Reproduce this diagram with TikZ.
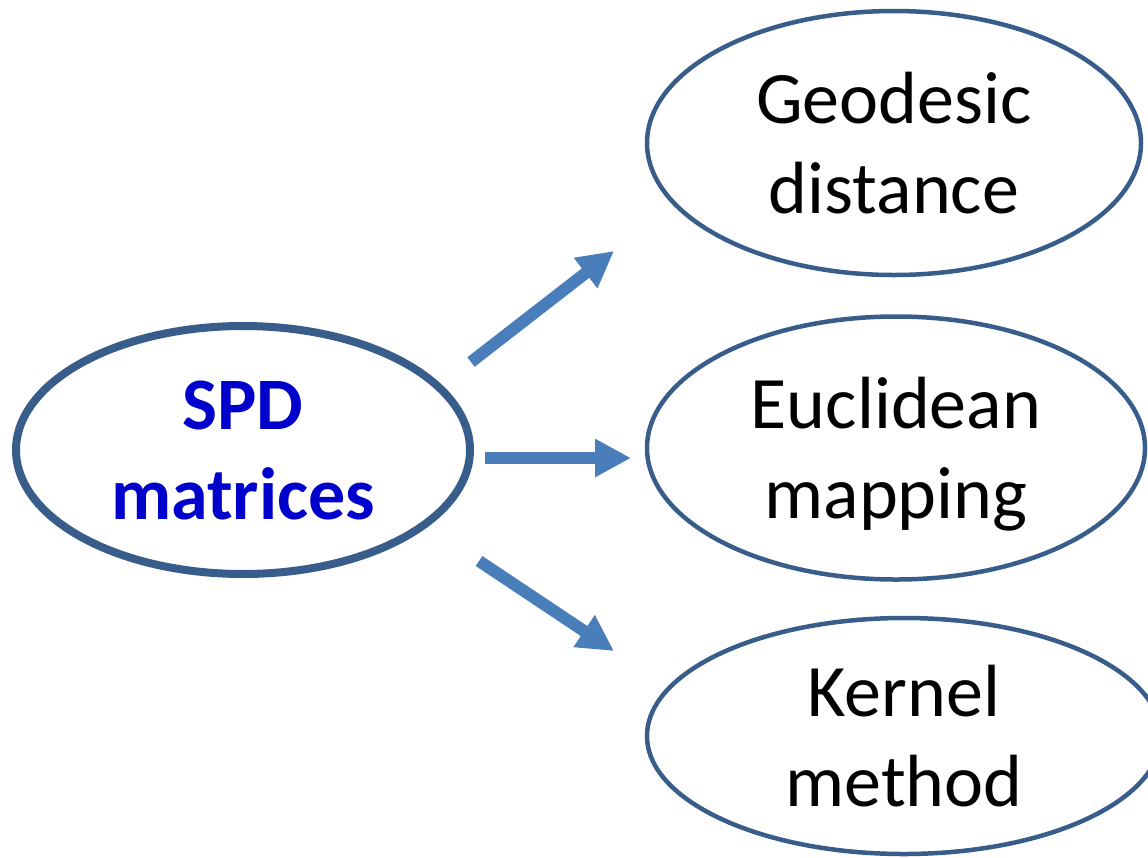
\documentclass[tikz,border=0pt]{standalone}
\usepackage{fontspec}
\setmainfont{Carlito}
\usetikzlibrary{shapes.geometric,arrows.meta}
\definecolor{outl}{RGB}{56,93,138}
\definecolor{arr}{RGB}{74,126,187}
\definecolor{spdblue}{RGB}{0,0,204}
\tikzset{
  oval/.style={ellipse, draw=outl, line width=4.5pt, inner sep=0pt, align=center,
    text depth=0pt, font=\fontsize{74}{90}\selectfont},
  bigarrow/.style={draw=arr, line width=12pt, -{Triangle[length=36pt,width=36pt]}}
}
\begin{document}
\begin{tikzpicture}[x=1pt,y=-1pt]
\useasboundingbox (0,0) rectangle (1148,857);
\node[oval, line width=8pt, minimum width=454pt, minimum height=248pt,
  text=spdblue, font=\fontsize{74}{90}\selectfont\bfseries] (spd) at (243,450) {SPD\\matrices};
\node[oval, minimum width=494pt, minimum height=264pt] (geo) at (894,143) {Geodesic\\distance};
\node[oval, minimum width=498pt, minimum height=263pt] (euc) at (896,448) {Euclidean\\mapping};
\node[oval, minimum width=514pt, minimum height=236pt] (ker) at (904,736) {Kernel\\method};
\coordinate (t1) at (471,362);
\coordinate (h1) at (614,251);
\coordinate (t2) at (485,458);
\coordinate (h2) at (631,458);
\coordinate (t3) at (479,561);
\coordinate (h3) at (614,651);
\draw[bigarrow] (t1) -- (h1);
\draw[bigarrow] (t2) -- (h2);
\draw[bigarrow] (t3) -- (h3);
\end{tikzpicture}
\end{document}
